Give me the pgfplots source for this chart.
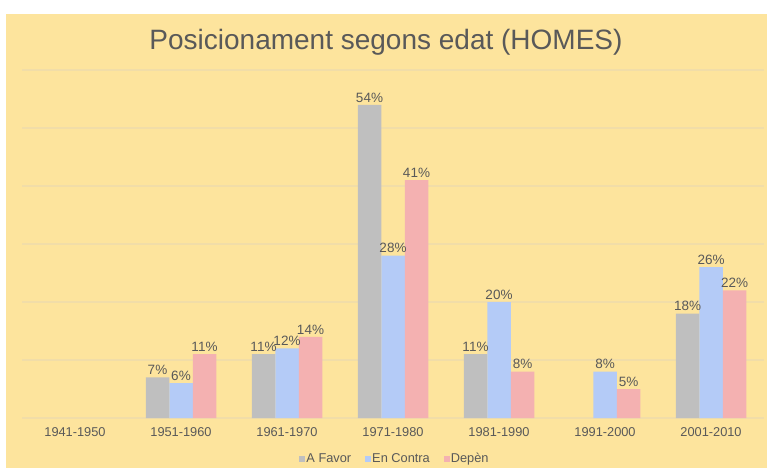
\documentclass[border=0pt]{standalone}
\usepackage{fontspec}
\setmainfont{Liberation Sans}
\usepackage{pgfplots}
\pgfplotsset{compat=1.18}
\definecolor{bgc}{HTML}{FDE49D}
\definecolor{gridc}{HTML}{F1DDA8}
\definecolor{txt}{HTML}{595959}
\definecolor{cfav}{HTML}{BFBFBF}
\definecolor{ccon}{HTML}{B4CBF7}
\definecolor{cdep}{HTML}{F4B1B1}
\begin{document}
\begin{tikzpicture}[x=1pt,y=1pt]
\useasboundingbox (0,0) rectangle (767,468);
\fill[white] (0,0) rectangle (767,468);
\fill[bgc] (6,0) rectangle (767,454);
\node[text=txt,font=\fontsize{28}{32}\selectfont] at (386,426) {Posicionament segons edat (HOMES)};
\begin{axis}[
  at={(22pt,50pt)}, anchor=south west,
  scale only axis, width=742pt, height=348pt,
  xmin=-0.5, xmax=6.5, ymin=0, ymax=60,
  ybar=0pt, bar width=23.5pt,
  xtick={0,...,6},
  xticklabels={1941-1950,1951-1960,1961-1970,1971-1980,1981-1990,1991-2000,2001-2010},
  ytick={0,10,...,60}, yticklabels={},
  ymajorgrids, grid style={gridc, line width=1.2pt},
  axis line style={draw=none}, tick style={draw=none},
  ticklabel style={text=txt, font=\fontsize{12.8}{14}\selectfont},
  xticklabel style={yshift=-2pt},
  /pgf/number format/assume math mode=true,
  nodes near coords={\pgfmathprintnumber{\pgfplotspointmeta}\%},
  every node near coord/.append style={text=txt, font=\fontsize{13.5}{15}\selectfont, yshift=-1pt},
  legend style={at={(axis description cs:0.5,0)}, xshift=2pt, yshift=-41pt, anchor=center, draw=none, fill=none,
    text=txt, font=\fontsize{12.8}{14}\selectfont,
    /tikz/every even column/.append style={column sep=12pt},
    /tikz/every odd column/.append style={column sep=-1pt}},
  legend columns=3,
  legend image code/.code={\fill[#1] (2pt,-3pt) rectangle (8pt,3pt);},
]
\addplot[fill=cfav, draw=none] coordinates {(1,7) (2,11) (3,54) (4,11) (6,18)};
\addplot[fill=ccon, draw=none] coordinates {(1,6) (2,12) (3,28) (4,20) (5,8) (6,26)};
\addplot[fill=cdep, draw=none] coordinates {(1,11) (2,14) (3,41) (4,8) (5,5) (6,22)};
\legend{A Favor, En Contra, Depèn}
\end{axis}
\end{tikzpicture}
\end{document}
